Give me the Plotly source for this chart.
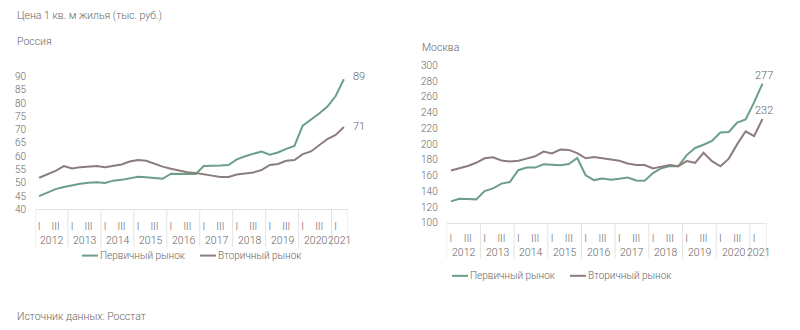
import plotly.graph_objects as go

# Quarterly data, 2012 Q1 .. 2021 Q2 (thousand rubles per sq. m)
years = ["2012", "2013", "2014", "2015", "2016", "2017", "2018", "2019", "2020", "2021"]
quarter_labels = ["I", "", "III", ""]

russia_primary = [45.0, 46.4, 47.6, 48.4, 49.1, 49.6, 50.0, 50.2, 49.9, 50.8,
                  51.1, 51.6, 52.3, 52.1, 51.7, 51.5, 53.4, 53.4, 53.3, 53.3,
                  56.3, 56.3, 56.5, 56.7, 58.8, 60.0, 60.9, 61.8, 60.6, 61.4,
                  62.8, 63.9, 71.5, 73.7, 76.1, 78.7, 82.7, 89.0]
russia_secondary = [51.9, 53.1, 54.5, 56.3, 55.4, 55.9, 56.1, 56.3, 55.9, 56.5,
                    56.9, 58.0, 58.6, 58.3, 57.1, 56.1, 55.3, 54.6, 54.0, 53.7,
                    53.1, 52.7, 52.2, 52.2, 53.1, 53.6, 53.9, 54.8, 56.7, 57.1,
                    58.3, 58.6, 60.8, 61.8, 64.0, 66.5, 68.0, 71.0]

moscow_primary = [127.3, 130.6, 130.2, 129.8, 140.4, 143.7, 149.8, 151.8, 166.9, 170.2,
                  170.2, 174.3, 173.9, 173.1, 174.7, 182.4, 160.4, 154.3, 156.3, 154.7,
                  155.9, 157.6, 153.9, 153.5, 163.3, 169.4, 172.2, 171.8, 186.1, 195.1,
                  199.2, 204.1, 214.7, 215.5, 227.3, 231.4, 253.1, 277.0]
moscow_secondary = [166.5, 169.0, 172.2, 176.3, 182.0, 183.3, 179.2, 178.0, 178.8, 181.6,
                    184.5, 190.6, 188.2, 193.1, 192.7, 188.6, 182.0, 183.7, 182.0, 181.2,
                    178.8, 175.5, 173.5, 173.5, 169.0, 171.4, 173.5, 171.8, 178.4, 176.3,
                    189.0, 178.4, 171.8, 181.6, 200.0, 216.3, 210.2, 232.0]

series_names = ["Первичный рынок", "Вторичный рынок"]
GREEN = "#6b9f87"
GREY = "#8c7d7d"
TEXT = "#666666"
GRID = "#e3e3e3"
FONT = "Roboto"
W = 300  # light text weight

n = len(russia_primary)
xs = list(range(n))

# quarter tick positions and labels (only labelled quarters get a tick)
tickvals = [i for i in xs if quarter_labels[i % 4]]
ticktext = [quarter_labels[i % 4] for i in tickvals]

fig = go.Figure()

panels = [
    dict(xa="x", ya="y", prim=russia_primary, sec=russia_secondary),
    dict(xa="x2", ya="y2", prim=moscow_primary, sec=moscow_secondary),
]
for p in panels:
    fig.add_trace(go.Scatter(x=xs, y=p["prim"], mode="lines", name=series_names[0],
                             line=dict(color=GREEN, width=2), xaxis=p["xa"], yaxis=p["ya"],
                             showlegend=False))
    fig.add_trace(go.Scatter(x=xs, y=p["sec"], mode="lines", name=series_names[1],
                             line=dict(color=GREY, width=2), xaxis=p["xa"], yaxis=p["ya"],
                             showlegend=False))

axis_common = dict(showgrid=False, zeroline=False, fixedrange=True,
                   tickfont=dict(family=FONT, size=10, color=TEXT, weight=W))
fig.update_layout(
    width=800, height=330,
    margin=dict(l=0, r=0, t=0, b=0),
    paper_bgcolor="white", plot_bgcolor="white",
    font=dict(family=FONT, size=10, color=TEXT, weight=W),
    showlegend=False,
    xaxis=dict(domain=[35 / 800, 348 / 800], range=[-0.5, n - 0.5], anchor="y",
               tickvals=tickvals, ticktext=ticktext, ticks="", ticklabelstandoff=8,
               showline=True, linecolor=GRID, linewidth=1, **axis_common),
    yaxis=dict(domain=[(330 - 211) / 330, (330 - 73.3) / 330], range=[40, 90], anchor="x",
               dtick=5, ticks="", ticklabelstandoff=8, showline=False, **axis_common),
    xaxis2=dict(domain=[446.7 / 800, 766.7 / 800], range=[-0.5, n - 0.5], anchor="y2",
                tickvals=tickvals, ticktext=ticktext, ticks="", ticklabelstandoff=6,
                showline=True, linecolor=GRID, linewidth=1, **axis_common),
    yaxis2=dict(domain=[(330 - 225) / 330, (330 - 61.7) / 330], range=[100, 300], anchor="x2",
                dtick=20, ticks="", ticklabelstandoff=8, showline=False, **axis_common),
)

annotations = []
shapes = []

def add_category_frame(xref, yref, depth_px, year_y_px, plot_h_px):
    # year separators and year labels under the quarter labels
    for k in range(len(years) + 1):
        xb = min(k * 4, n) - 0.5
        shapes.append(dict(type="line", xref=xref, yref=f"{yref} domain",
                           x0=xb, x1=xb, y0=0, y1=-depth_px / plot_h_px,
                           line=dict(color=GRID, width=1)))
    for k, yr in enumerate(years):
        x0 = k * 4 - 0.5
        x1 = min(k * 4 + 4, n) - 0.5
        annotations.append(dict(text=yr, xref=xref, yref=f"{yref} domain",
                                x=(x0 + x1) / 2, y=-year_y_px / plot_h_px,
                                showarrow=False, font=dict(size=10.5, color=TEXT, weight=W),
                                xanchor="center", yanchor="middle"))

add_category_frame("x", "y", 39, 32, 211 - 73.3)
add_category_frame("x2", "y2", 37, 31, 225 - 61.7)

# end-of-series value labels
label_font = dict(size=11, color=TEXT, weight=W)
annotations += [
    dict(text=f"{russia_primary[-1]:.0f}", xref="x", yref="y", x=n - 1, y=russia_primary[-1],
         xshift=7, yshift=3, showarrow=False, xanchor="left", font=label_font),
    dict(text=f"{russia_secondary[-1]:.0f}", xref="x", yref="y", x=n - 1, y=russia_secondary[-1],
         xshift=7, yshift=1, showarrow=False, xanchor="left", font=label_font),
    dict(text=f"{moscow_primary[-1]:.0f}", xref="x2", yref="y2", x=n - 1, y=moscow_primary[-1],
         xshift=2, yshift=8, showarrow=False, xanchor="center", font=label_font),
    dict(text=f"{moscow_secondary[-1]:.0f}", xref="x2", yref="y2", x=n - 1, y=moscow_secondary[-1],
         xshift=2, yshift=8, showarrow=False, xanchor="center", font=label_font),
]

# titles and source
def paper_text(text, x_px, y_px, size=10.5):
    annotations.append(dict(text=text, xref="paper", yref="paper",
                            x=x_px / 800, y=1 - y_px / 330, showarrow=False,
                            xanchor="left", yanchor="middle",
                            font=dict(size=size, color=TEXT, weight=W)))

paper_text("Цена 1 кв. м жилья (тыс. руб.)", 15, 10)
paper_text("Россия", 15, 37)
paper_text("Москва", 420, 43)
paper_text("Источник данных: Росстат", 15, 322)

# legends drawn beneath each panel
def legend(x_px, y_px, gap_px):
    for name, color, off in [(series_names[0], GREEN, 0), (series_names[1], GREY, gap_px)]:
        x0 = x_px + off
        shapes.append(dict(type="line", xref="paper", yref="paper",
                           x0=x0 / 800, x1=(x0 + 16) / 800,
                           y0=1 - y_px / 330, y1=1 - y_px / 330,
                           line=dict(color=color, width=2)))
        annotations.append(dict(text=name, xref="paper", yref="paper",
                                x=(x0 + 16) / 800, y=1 - y_px / 330, showarrow=False,
                                xanchor="left", yanchor="middle",
                                font=dict(size=10, color=TEXT, weight=W)))

legend(82, 259, 118)
legend(452, 280, 118)

fig.update_layout(annotations=annotations, shapes=shapes)
fig.write_html("out.html")
